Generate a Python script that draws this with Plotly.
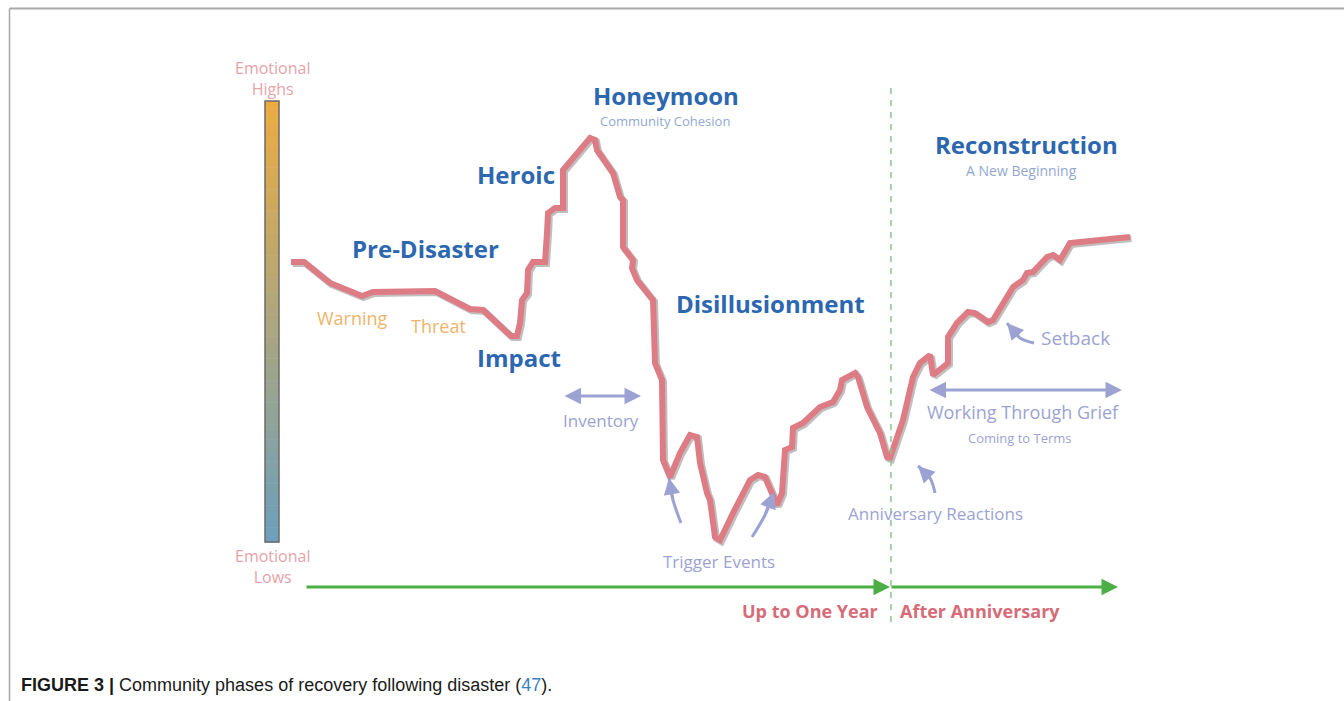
import plotly.graph_objects as go

# ---- Data: emotional curve (time position, emotional level in diagram units) ----
curve_t = [291, 304, 330, 353, 362, 373, 435, 470, 483, 511, 517, 520, 522, 527, 528, 533, 545,
           547, 548, 555, 563, 563, 573, 590, 595, 597, 613, 617, 620, 623, 623, 633, 632, 637, 653,
           655, 662, 663, 670, 680, 690, 697, 700, 707, 710, 715, 720, 733, 750, 758, 765, 777, 782,
           785, 792, 793, 803, 820, 833, 840, 842, 855, 858, 867, 877, 880, 887, 890, 903, 913, 920,
           930, 933, 948, 948, 957, 968, 975, 988, 993, 1013, 1023, 1027, 1033, 1047, 1053, 1060,
           1070, 1080, 1130]
curve_level = [262, 262, 283, 293, 296, 292, 291, 309, 310, 336, 336, 323, 300, 293, 270, 262, 262,
               233, 213, 208, 208, 170, 158, 138, 140, 150, 173, 190, 197, 200, 247, 260, 268, 280, 300,
               363, 380, 460, 477, 453, 435, 437, 463, 493, 500, 537, 540, 513, 480, 475, 477, 505, 493,
               450, 447, 428, 423, 407, 402, 390, 380, 373, 377, 407, 427, 433, 457, 458, 420, 377, 363,
               355, 375, 363, 337, 323, 312, 313, 322, 320, 287, 280, 273, 272, 257, 255, 260,
               243, 242, 237]

phase_labels = ["Pre-Disaster", "Heroic", "Honeymoon", "Impact", "Disillusionment", "Reconstruction"]
phase_pos = [(425, 248), (516, 174), (666, 95), (519, 357), (770, 303), (1026, 144)]
sub_labels = ["Community Cohesion", "A New Beginning"]
sub_pos = [(665, 121), (1021, 170)]
sub_sizes = [13, 14]
warn_labels = ["Warning", "Threat"]
warn_pos = [(352, 318), (438, 326)]
note_labels = ["Inventory", "Trigger Events", "Anniversary Reactions", "Setback",
               "Working Through Grief", "Coming to Terms"]
note_pos = [(601, 420), (719, 561), (935, 513), (1075, 338), (1023, 412), (1020, 438)]
note_sizes = [17, 17, 17, 19, 18, 13]
time_labels = ["Up to One Year", "After Anniversary"]
time_pos = [(810, 611), (980, 611)]
scale_labels = ["Emotional<br>Highs", "Emotional<br>Lows"]
scale_pos = [(272, 78), (272, 566)]

BLUE = "#2C67B0"
LIGHT = "#93A8CF"
LAV = "#9CA3D3"
ORANGE = "#EFB46A"
PINK = "#D66C78"
CURVE = "#DE7C86"
GREEN = "#4CAF45"
FONT = "Open Sans"

fig = go.Figure()

# vertical gradient bar (emotional scale)
n = 60
top, bot = 101, 542
def mix(c1, c2, t):
    return "rgb(%d,%d,%d)" % tuple(round(a + (b - a) * t) for a, b in zip(c1, c2))
for i in range(n):
    y0 = top + (bot - top) * i / n
    y1 = top + (bot - top) * (i + 1) / n
    fig.add_shape(type="rect", x0=265, x1=279, y0=y0, y1=y1 + 0.5,
                  fillcolor=mix((236, 172, 64), (108, 160, 188), i / (n - 1)),
                  line=dict(width=0), layer="below")
fig.add_shape(type="rect", x0=265, x1=279, y0=top, y1=bot,
              line=dict(color="#6E6A66", width=1.5))

# dashed anniversary divider
fig.add_shape(type="line", x0=891, x1=891, y0=88, y1=622,
              line=dict(color="#8CC88A", width=1.5, dash="6px,6px"))

# time axis arrows
fig.add_annotation(x=890, y=587, ax=305, ay=587, xref="x", yref="y", axref="x", ayref="y",
                   text="", showarrow=True, arrowhead=2, arrowsize=1.1, arrowwidth=3,
                   arrowcolor=GREEN)
fig.add_annotation(x=1118, y=587, ax=890, ay=587, xref="x", yref="y", axref="x", ayref="y",
                   text="", showarrow=True, arrowhead=2, arrowsize=1.1, arrowwidth=3,
                   arrowcolor=GREEN)

# double arrows
for (x0, x1, yy) in [(563, 641, 396), (928, 1122, 390)]:
    fig.add_annotation(x=x1, y=yy, ax=x0, ay=yy, xref="x", yref="y", axref="x", ayref="y",
                       text="", showarrow=True, arrowhead=2, startarrowhead=2,
                       arrowside="end+start", arrowsize=1.1, startarrowsize=1.1,
                       arrowwidth=3, arrowcolor=LAV)

# curved pointer arrows
pointers = [
    ([681, 673, 669], [523, 500, 478]),
    ([752, 765, 774], [537, 515, 492]),
    ([935, 930, 918], [493, 478, 466]),
    ([1034, 1020, 1007], [343, 338, 323]),
]
for px, py in pointers:
    fig.add_trace(go.Scatter(x=px, y=py, mode="lines", line=dict(color=LAV, width=3, shape="spline"),
                             hoverinfo="skip", showlegend=False))
    fig.add_annotation(x=px[-1], y=py[-1], ax=px[-2], ay=py[-2], xref="x", yref="y",
                       axref="x", ayref="y", text="", showarrow=True, arrowhead=2,
                       arrowsize=1.1, arrowwidth=3, arrowcolor=LAV)

# emotional curve: soft shadow + line
fig.add_trace(go.Scatter(x=[t + 1.5 for t in curve_t], y=[v + 1.5 for v in curve_level], mode="lines",
                         line=dict(color="rgba(120,110,110,0.45)", width=7),
                         hoverinfo="skip", showlegend=False))
fig.add_trace(go.Scatter(x=curve_t, y=curve_level, mode="lines",
                         line=dict(color=CURVE, width=6),
                         hoverinfo="skip", showlegend=False))

# texts
def txt(s, pos, size, color, bold=False, family=FONT):
    fig.add_annotation(x=pos[0], y=pos[1], xref="x", yref="y", text=("<b>%s</b>" % s) if bold else s,
                       showarrow=False, font=dict(family=family, size=size, color=color),
                       xanchor="center", yanchor="middle", borderpad=0)

for s, p in zip(phase_labels, phase_pos):
    txt(s, p, 24, BLUE, bold=True)
for s, p, z in zip(sub_labels, sub_pos, sub_sizes):
    txt(s, p, z, LIGHT)
for s, p in zip(warn_labels, warn_pos):
    txt(s, p, 18, ORANGE)
for s, p, z in zip(note_labels, note_pos, note_sizes):
    txt(s, p, z, LAV)
for s, p in zip(time_labels, time_pos):
    txt(s, p, 18, PINK, bold=True)
for s, p in zip(scale_labels, scale_pos):
    txt(s, p, 16, "#E6A3AA")

# border of figure panel
fig.add_shape(type="line", xref="paper", yref="paper", x0=9.5 / 1344, x1=1, y0=1 - 8.5 / 701,
              y1=1 - 8.5 / 701, line=dict(color="#A8A8A8", width=2))
fig.add_shape(type="line", xref="paper", yref="paper", x0=9.5 / 1344, x1=9.5 / 1344,
              y0=0, y1=1 - 8.5 / 701, line=dict(color="#A8A8A8", width=1.5))

# caption
fig.add_annotation(x=19, y=685, xref="x", yref="y", xanchor="left", yanchor="middle", showarrow=False,
                   text="<b>FIGURE 3 |</b> Community phases of recovery following disaster "
                        "(<span style='color:#3B7FC4'>47</span>).",
                   font=dict(family="Liberation Sans Narrow, Liberation Sans, Arial", size=18,
                             color="#1A1A1A"))

fig.update_xaxes(range=[0, 1344], visible=False, fixedrange=True)
fig.update_yaxes(range=[701, 0], visible=False, fixedrange=True)
fig.update_layout(width=1344, height=701, margin=dict(l=0, r=0, t=0, b=0),
                  paper_bgcolor="white", plot_bgcolor="white", showlegend=False)

fig.write_html("out.html", config={"displayModeBar": False},
               post_script="document.body.style.margin='0';document.body.style.overflow='hidden';")
